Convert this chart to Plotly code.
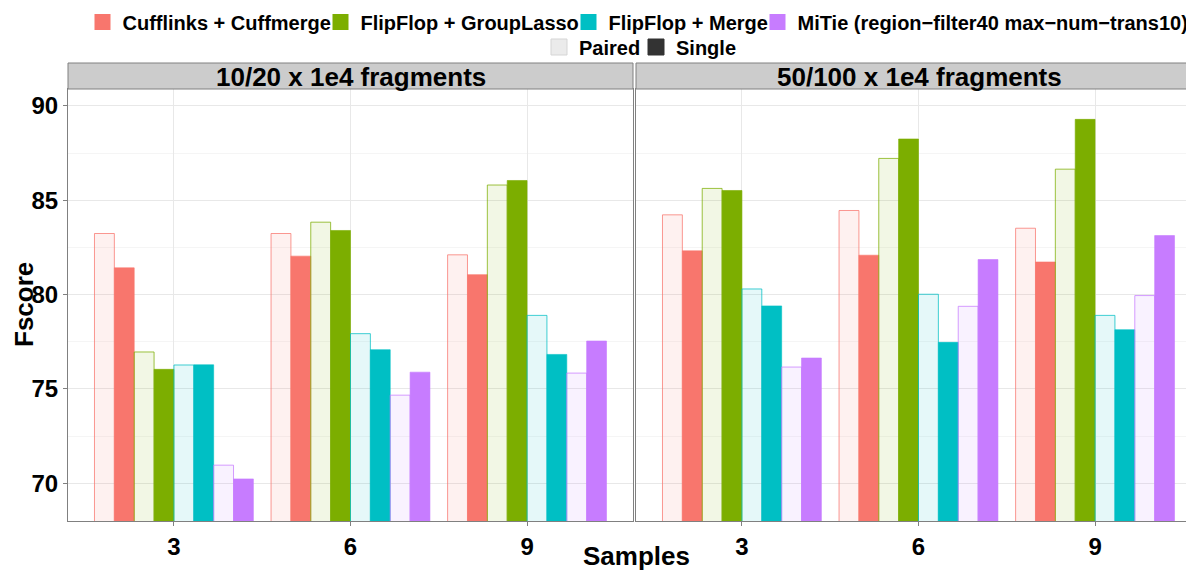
import plotly.graph_objects as go

samples = ["3", "6", "9"]
sample_pos = [0, 1, 2]
methods = ["Cufflinks + Cuffmerge", "FlipFlop + GroupLasso", "FlipFlop + Merge",
           "MiTie (region\u2212filter40 max\u2212num\u2212trans10)"]
colors = ["#F8766D", "#7CAE00", "#00BFC4", "#C77CFF"]
panels = ["10/20 x 1e4 fragments", "50/100 x 1e4 fragments"]
pair_labels = ["Paired", "Single"]

# values per panel, per method, for samples 3, 6, 9
low_paired_cuff = [83.24, 83.24, 82.11]
low_paired_gl = [76.96, 83.84, 85.81]
low_paired_merge = [76.27, 77.93, 78.90]
low_paired_mitie = [70.96, 74.67, 75.84]
low_single_cuff = [81.42, 82.04, 81.06]
low_single_gl = [76.04, 83.40, 86.05]
low_single_merge = [76.28, 77.08, 76.83]
low_single_mitie = [70.23, 75.89, 77.54]
high_paired_cuff = [84.23, 84.46, 83.52]
high_paired_gl = [85.63, 87.22, 86.65]
high_paired_merge = [80.30, 80.02, 78.90]
high_paired_mitie = [76.16, 79.38, 79.95]
high_single_cuff = [82.32, 82.09, 81.73]
high_single_gl = [85.52, 88.25, 89.29]
high_single_merge = [79.40, 77.47, 78.14]
high_single_mitie = [76.64, 81.86, 83.13]
y_ticks = [70, 75, 80, 85, 90]

low_paired = [low_paired_cuff, low_paired_gl, low_paired_merge, low_paired_mitie]
low_single = [low_single_cuff, low_single_gl, low_single_merge, low_single_mitie]
high_paired = [high_paired_cuff, high_paired_gl, high_paired_merge, high_paired_mitie]
high_single = [high_single_cuff, high_single_gl, high_single_merge, high_single_mitie]

FONT = "Liberation Sans, Arial, Helvetica, sans-serif"
# approximate rendered text widths (px) of legend labels, used to tighten legend spacing
legend_text_w = [208, 218, 159, 391]
legend_slot_w = [legend_text_w[0] - 15, legend_text_w[1] - 15, legend_text_w[2] - 15, legend_text_w[3] + 4]


def rgba(hexc, a):
    h = hexc.lstrip("#")
    r, g, b = int(h[0:2], 16), int(h[2:4], 16), int(h[4:6], 16)
    return f"rgba({r},{g},{b},{a})"


fig = go.Figure()
panel_data = [(low_paired, low_single, "x", "y"), (high_paired, high_single, "x2", "y2")]
for pi, (pdat, sdat, xa, ya) in enumerate(panel_data):
    for mi, (m, c) in enumerate(zip(methods, colors)):
        fig.add_trace(go.Bar(
            x=sample_pos, y=pdat[mi], xaxis=xa, yaxis=ya,
            marker=dict(color=rgba(c, 0.1), line=dict(color=rgba(c, 0.75), width=1)),
            showlegend=False, name=m + " (" + pair_labels[0] + ")"))
        fig.add_trace(go.Bar(
            x=sample_pos, y=sdat[mi], xaxis=xa, yaxis=ya,
            marker=dict(color=c, line=dict(color=rgba(c, 0.6), width=1)),
            showlegend=False, name=m))

# legend-only entries (square swatches), placed on a hidden axis
for mi, (m, c) in enumerate(zip(methods, colors)):
    fig.add_trace(go.Scatter(x=[None], y=[None], xaxis="x3", yaxis="y3", mode="markers", name=m,
                             marker=dict(symbol="square", size=16, color=c, line=dict(width=0)),
                             legend="legend", legendwidth=legend_slot_w[mi]))
fig.add_trace(go.Scatter(x=[None], y=[None], xaxis="x3", yaxis="y3", mode="markers",
                         name=pair_labels[0],
                         marker=dict(symbol="square", size=16, color="#EBEBEB",
                                     line=dict(color="#D5D5D5", width=1)),
                         legend="legend2", legendwidth=52))
fig.add_trace(go.Scatter(x=[None], y=[None], xaxis="x3", yaxis="y3", mode="markers",
                         name=pair_labels[1],
                         marker=dict(symbol="square", size=16, color="#333333",
                                     line=dict(color="#333333", width=1)),
                         legend="legend2", legendwidth=60))

# The page shows the figure offset by the browser's 8px body margin; targets below are
# window pixels, converted to figure pixels by subtracting OFF.
OFF = 8
W, H = 1194, 570
ml = 68 - OFF
mt = 89 - OFF
mb = H - (521 - OFF)
mr = 0
pw = W - ml - mr
ph = H - mt - mb
left_dom = [0, 565 / pw]
right_dom = [(636 - 68) / pw, 1]
unit = 565 / 3.2
right_max = -0.6 + (W + OFF - 636) / unit

grid_major = "#E8E8E8"
grid_minor = "#F5F5F5"
axis_line = "#808080"

common_x = dict(tickmode="array", tickvals=sample_pos, ticktext=samples,
                showgrid=True, gridcolor=grid_major, gridwidth=1,
                showline=True, linecolor=axis_line, linewidth=1, mirror=True,
                ticks="outside", ticklen=4, tickcolor=axis_line,
                tickfont=dict(size=24, color="black", family=FONT, weight="bold"),
                zeroline=False, automargin=False)
common_y = dict(range=[68.0, 90.9], tickmode="array", tickvals=y_ticks,
                showgrid=True, gridcolor=grid_major, gridwidth=1,
                minor=dict(dtick=2.5, tick0=67.5, showgrid=True, gridcolor=grid_minor, ticks=""),
                showline=True, linecolor=axis_line, linewidth=1,
                zeroline=False, automargin=False)

legend_common = dict(orientation="h", x=(640 - OFF) / W, xanchor="center", yanchor="middle",
                     xref="container", yref="container",
                     font=dict(size=20, family=FONT, weight="bold", color="black"),
                     bgcolor="rgba(0,0,0,0)", itemclick=False, itemdoubleclick=False,
                     traceorder="normal", itemwidth=30, borderwidth=0, itemsizing="trace")

fig.update_layout(
    width=W, height=H,
    margin=dict(l=ml, r=mr, t=mt, b=mb, pad=0, autoexpand=False),
    paper_bgcolor="white", plot_bgcolor="white",
    font=dict(family=FONT, color="black", weight="bold"),
    barmode="group", bargap=0.1, bargroupgap=0,
    xaxis=dict(domain=left_dom, range=[-0.6, 2.6], anchor="y", **common_x),
    yaxis=dict(domain=[0, 1], anchor="x", mirror=True,
               ticks="outside", ticklen=4, tickcolor=axis_line,
               tickfont=dict(size=24, color="black", family=FONT, weight="bold"),
               **common_y),
    xaxis2=dict(domain=right_dom, range=[-0.6, right_max], anchor="y2", **common_x),
    yaxis2=dict(domain=[0, 1], anchor="x2", mirror=False, showticklabels=False, ticks="",
                **common_y),
    xaxis3=dict(domain=[0, 0.01], visible=False),
    yaxis3=dict(domain=[0, 0.01], visible=False, anchor="x3"),
    legend=dict(y=1 - (22 - OFF) / H, **legend_common),
    legend2=dict(y=1 - (47 - OFF) / H, **legend_common),
    showlegend=True,
)

# facet strips
strip_top = (H - mb - (63 - OFF)) / ph
strip_mid = (H - mb - (77 - OFF)) / ph
for xa, label in zip(["x", "x2"], panels):
    fig.add_shape(type="rect", xref=f"{xa} domain", yref="y domain",
                  x0=0, x1=1, y0=1.0, y1=strip_top,
                  fillcolor="#CCCCCC", line=dict(color=axis_line, width=1), layer="above")
    fig.add_annotation(text=label, xref=f"{xa} domain", yref="y domain",
                       x=0.5, y=strip_mid, xanchor="center", yanchor="middle",
                       showarrow=False,
                       font=dict(size=26, family=FONT, weight="bold", color="black"))

# axis titles
fig.add_annotation(text="Samples", xref="paper", yref="paper", x=(636 - 68) / pw,
                   y=-((556 - OFF) - (H - mb)) / ph, xanchor="center", yanchor="middle",
                   showarrow=False,
                   font=dict(size=26, family=FONT, weight="bold", color="black"))
fig.add_annotation(text="Fscore", xref="paper", yref="paper", x=(24 - 68) / pw,
                   y=0.5, xanchor="center", yanchor="middle", showarrow=False, textangle=-90,
                   font=dict(size=26, family=FONT, weight="bold", color="black"))

fig.write_html("out.html")
